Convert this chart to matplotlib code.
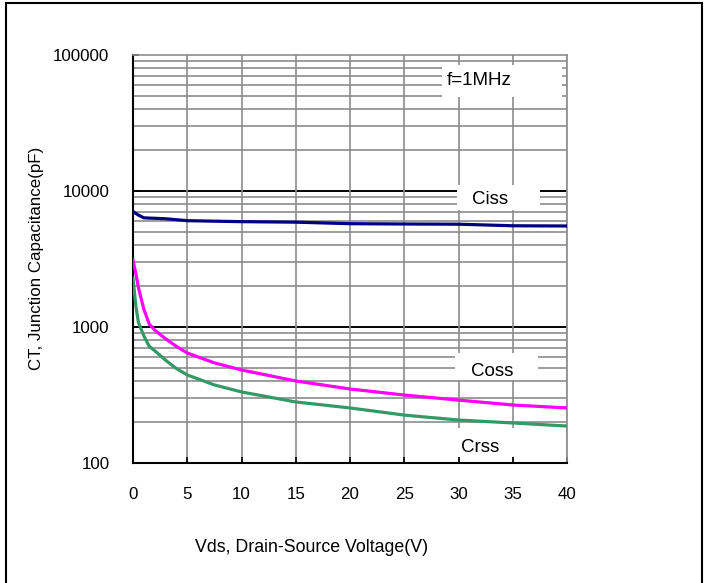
import matplotlib.pyplot as plt
from matplotlib.patches import Rectangle
from matplotlib.ticker import LogLocator, NullFormatter

plt.rcParams['font.family'] = ['Liberation Sans', 'DejaVu Sans']

# values
vds = [0, 0.25, 0.5, 1, 1.5, 2, 3, 4, 5, 7.5, 10, 15, 20, 25, 30, 35, 40]
ciss = [7050, 6850, 6650, 6350, 6320, 6300, 6250, 6150, 6050, 6000, 5950, 5900, 5750, 5720, 5700, 5550, 5530]
coss = [3100, 2500, 1950, 1350, 1050, 950, 820, 720, 644, 545, 483, 401, 350, 316, 290, 267, 254]
crss = [2290, 1450, 1080, 860, 720, 670, 570, 495, 444, 375, 333, 281, 254, 225, 207, 197, 187]

x_ticks = [0, 5, 10, 15, 20, 25, 30, 35, 40]
y_ticks = [100, 1000, 10000, 100000]
y_tick_labels = ["100", "1000", "10000", "100000"]

fig = plt.figure(figsize=(7.04, 5.83), dpi=100)
ax = fig.add_axes([133 / 704, 1 - 463 / 583, 434 / 704, 408 / 583])

ax.set_yscale("log")
ax.set_xlim(0, 40)
ax.set_ylim(100, 100000)

# grid: gray minor / vertical, black decade lines
ax.yaxis.set_minor_locator(LogLocator(base=10, subs=range(2, 10)))
ax.yaxis.set_minor_formatter(NullFormatter())
ax.grid(which="minor", axis="y", color="#8c8c8c", lw=1.2)
ax.grid(which="major", axis="x", color="#8c8c8c", lw=1.2)
for v in [1000, 10000]:
    ax.axhline(v, color="black", lw=1.4, zorder=1.5)

ax.set_xticks(x_ticks)
ax.set_yticks(y_ticks)
ax.set_yticklabels(y_tick_labels)
ax.tick_params(axis="both", which="major", direction="in", length=4, width=1.2,
               labelsize=12.2, color="black")
ax.tick_params(axis="x", pad=17)
ax.tick_params(axis="y", pad=17)
ax.tick_params(which="minor", length=0)

for s in ["top", "right"]:
    ax.spines[s].set_color("#8c8c8c")
    ax.spines[s].set_linewidth(1.2)
for s in ["left", "bottom"]:
    ax.spines[s].set_color("black")
    ax.spines[s].set_linewidth(1.5)

# white label boxes covering the grid
boxes = [(28.5, 49100, 11.0, 84400 - 49100),
         (29.9, 7250, 7.6, 11070 - 7250),
         (29.7, 408, 7.6, 644 - 408),
         (29.5, 111, 6.2, 181 - 111)]
for bx, by, bw, bh in boxes:
    ax.add_patch(Rectangle((bx, by), bw, bh, facecolor="white", edgecolor="none", zorder=2))

ax.plot(vds, ciss, color="#000080", lw=2.3, zorder=3)
ax.plot(vds, coss, color="#ff00ff", lw=2.3, zorder=3)
ax.plot(vds, crss, color="#339966", lw=2.3, zorder=3)

ax.text(28.9, 64400, "f=1MHz", fontsize=13.5, ha="left", va="center", zorder=4)
ax.text(32.9, 8590, "Ciss", fontsize=13.5, ha="center", va="center", zorder=4)
ax.text(33.1, 467, "Coss", fontsize=13.5, ha="center", va="center", zorder=4)
ax.text(32.0, 131, "Crss", fontsize=13.5, ha="center", va="center", zorder=4)

fig.text(312 / 704, 1 - 548 / 583, "Vds, Drain-Source Voltage(V)", fontsize=12.8,
         ha="center", va="center")
fig.text(37 / 704, 1 - 258 / 583, "CT, Junction Capacitance(pF)", fontsize=12.2,
         ha="center", va="center", rotation=90)

# outer frame of the figure
fig.add_artist(Rectangle((5.5 / 704, -0.02), 696 / 704, 1.02 - 3 / 583,
                         transform=fig.transFigure, fill=False, edgecolor="black", lw=1.5))

fig.savefig("out.png", dpi=100)
